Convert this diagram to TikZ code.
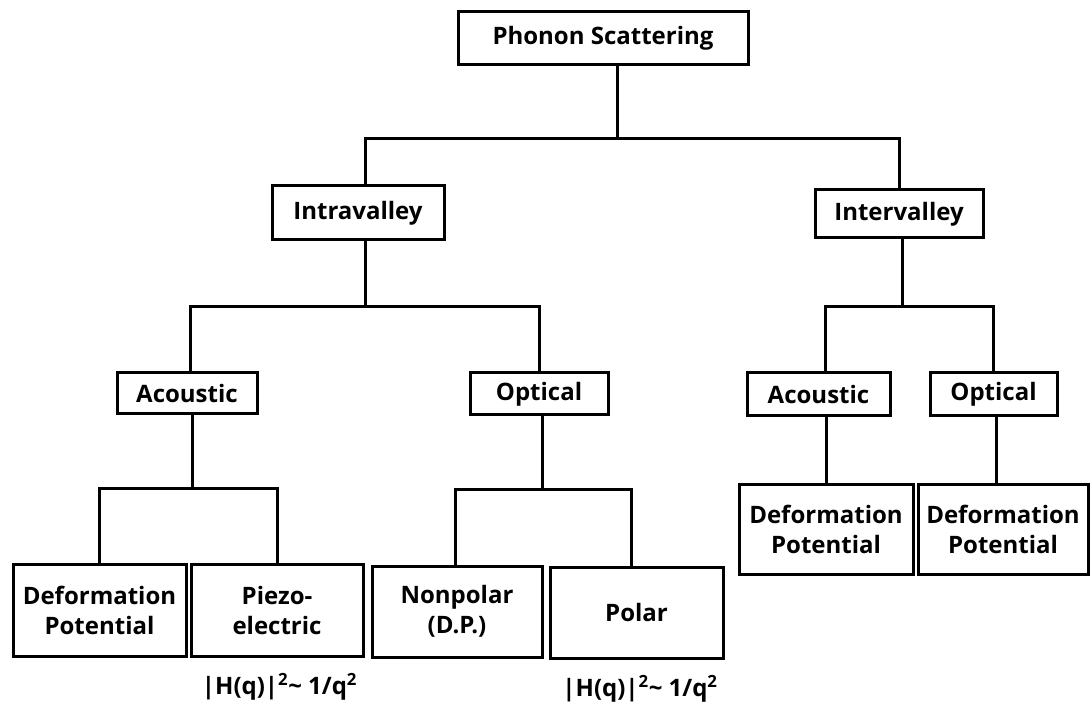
\documentclass[tikz,border=0pt]{standalone}
\usepackage{fontspec}
\setmainfont{Open Sans}
\usetikzlibrary{positioning}

\tikzset{
  box/.style={draw, line width=3pt, align=center, inner sep=0pt,
    font=\fontsize{24}{30}\selectfont\bfseries},
  link/.style={line width=3pt, line cap=rect},
  law/.style={inner sep=0pt, font=\fontsize{24}{30}\selectfont\bfseries},
}

\begin{document}
\begin{tikzpicture}[x=1pt, y=1pt]
      \useasboundingbox (0,0) rectangle (1090,-708);
      % Define nodes
      \node[box, minimum width=290pt, minimum height=53pt] (phonon) at (603,-38.5) {Phonon Scattering};
      \node[box, minimum width=172pt, minimum height=54pt, below=118pt of phonon, xshift=-245pt] (intra) {Intravalley};
      \node[box, minimum width=168pt, minimum height=48pt, below=122pt of phonon, xshift=296pt] (inter) {Intervalley};
      \node[box, minimum width=140pt, minimum height=41pt, below=130pt of intra, xshift=-171pt] (acL) {Acoustic};
      \node[box, minimum width=138pt, minimum height=42pt, below=130pt of intra, xshift=181pt] (opL) {Optical};
      \node[box, minimum width=143pt, minimum height=43pt, below=132pt of inter, xshift=-80.5pt] (acR) {Acoustic};
      \node[box, minimum width=127pt, minimum height=43pt, below=132pt of inter, xshift=94.5pt] (opR) {Optical};
      \node[box, minimum width=173pt, minimum height=92pt, below=147pt of acL, xshift=-87.5pt] (defL) {Deformation\\Potential};
      \node[box, minimum width=172pt, minimum height=92pt, below=147pt of acL, xshift=90pt] (piezo) {Piezo-\\electric};
      \node[box, minimum width=170pt, minimum height=91pt, below=148pt of opL, xshift=-82pt] (nonpol) {Nonpolar\\(D.P.)};
      \node[box, minimum width=173pt, minimum height=91pt, below=149pt of opL, xshift=97.5pt] (polar) {Polar};
      \node[box, minimum width=174pt, minimum height=90pt, below=65pt of acR, xshift=7.5pt] (defRa) {Deformation\\Potential};
      \node[box, minimum width=170pt, minimum height=90pt, below=65pt of opR, xshift=9.5pt] (defRo) {Deformation\\Potential};
      \node[law, below=16pt of piezo, xshift=2.5pt] (piezolaw) {|H(q)|\textsuperscript{2}\textasciitilde{} 1/q\textsuperscript{2}};
      \node[law, below=16pt of polar, xshift=3.5pt] (polarlaw) {|H(q)|\textsuperscript{2}\textasciitilde{} 1/q\textsuperscript{2}};
      % Connect nodes
      \draw[link] ([xshift=14pt]phonon.south) -- ++(0,-72) coordinate (trunk);
      \draw[link] ([xshift=7pt]intra.north) |- (trunk) -| (inter.north);
      \draw[link] ([xshift=7pt]intra.south) -- ++(0,-65) coordinate (intrajoin);
      \draw[link] ([xshift=3pt]acL.north) |- (intrajoin) -| (opL.north);
      \draw[link] ([xshift=3pt]inter.south) -- ++(0,-67) coordinate (interjoin);
      \draw[link] ([xshift=6.5pt]acR.north) |- (interjoin) -| (opR.north);
      \draw[link] ([xshift=5pt]acL.south) -- ++(0,-73) coordinate (acjoin);
      \draw[link] (defL.north) |- (acjoin) -| (piezo.north);
      \draw[link] ([xshift=3pt]opL.south) -- ++(0,-73) coordinate (opjoin);
      \draw[link] ([xshift=-2pt]nonpol.north) |- (opjoin) -| ([xshift=-5.5pt]polar.north);
      \draw[link] ([xshift=7.5pt]acR.south) -- (defRa.north);
      \draw[link] ([xshift=2.5pt]opR.south) -- ([xshift=-7pt]defRo.north);
    \end{tikzpicture}
\end{document}
